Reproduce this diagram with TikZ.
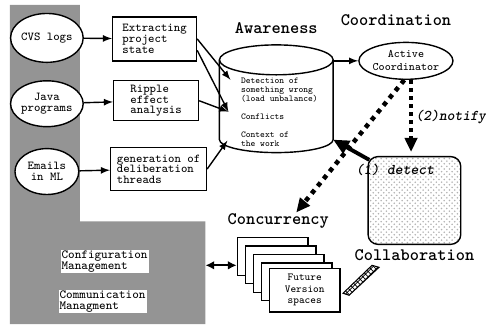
\documentclass[tikz,border=0pt]{standalone}
\usepackage{fontspec}
\usepackage{tikz}
\usetikzlibrary{positioning}
\usetikzlibrary{arrows}
\usetikzlibrary{arrows.meta}
\usetikzlibrary{shapes.geometric}
\usetikzlibrary{patterns}

\begin{document}
\begin{tikzpicture}[x=0.02cm, y=-0.02cm, >=latex, line width=0.8pt, node distance=0.08cm,
  src/.style={ellipse, draw, fill=white, minimum width=1.28cm, minimum height=0.92cm, inner sep=0pt, align=center, font=\fontsize{6.9}{6.3}\selectfont\ttfamily},
  proc/.style={rectangle, draw, fill=white, align=left, inner sep=1pt, font=\fontsize{6.9}{6.1}\selectfont\ttfamily},
  title/.style={inner sep=0pt, font=\fontsize{10}{10}\selectfont\ttfamily\bfseries},
  note/.style={anchor=west, align=left, inner sep=0pt, font=\fontsize{5.15}{5.1}\selectfont\ttfamily},
  page/.style={rectangle, draw, fill=white, minimum width=1.42cm, minimum height=0.76cm, align=center, font=\fontsize{6.1}{6.5}\selectfont\ttfamily},
  mgmt/.style={anchor=west, align=left, fill=white, inner sep=0.6pt, font=\fontsize{7.1}{6}\selectfont\ttfamily},
  act/.style={inner sep=0pt, font=\fontsize{8.5}{8.5}\selectfont\ttfamily\bfseries\slshape},
  sqdot/.style={line width=2.2pt, dash pattern=on 2.2pt off 2.4pt, -{Triangle[length=8pt, width=7pt]}}]

% shaded background
\fill[black!42] (10,5) -- (80,5) -- (80,222) -- (206,222) -- (206,325) -- (10,325) -- cycle;

% sources
\node [src, minimum height=0.98cm] (cvs) at (47,38) {CVS logs};
\node [src] (java) at (47,104) {Java\\programs};
\node [src] (mail) at (47,172) {Emails\\in ML};

\node [proc, minimum width=1.68cm, minimum height=0.88cm] (extract) at (155,39) {Extracting\\project\\state};
\node [proc, minimum width=1.7cm, minimum height=0.8cm] (ripple) at (156.5,101) {Ripple\\effect\\analysis};
\node [proc, minimum width=1.92cm, minimum height=0.86cm] (gen) at (159,169.5) {generation of\\deliberation\\threads};

\draw [->] (cvs) -- (extract);
\draw [->] (java) -- (ripple);
\draw [->] (mail) -- (gen);

% awareness store
\draw [fill=white] (220,60) -- (220,140) arc [start angle=180, end angle=0, x radius=57, y radius=13] -- (334,60);
\draw (277,60) ellipse [x radius=57, y radius=15];
\coordinate (cyltop) at (277,45);
\coordinate (cylr) at (334,61);
\coordinate (cylbr) at (334,140);
\node [title, above = 0.22cm of cyltop] (aware) {Awareness};

\node [note] (detection) at (241,90) {Detection of\\something wrong\\(load unbalance)};
\node [note] (conflicts) at (241,117) {Conflicts};
\node [note] (context) at (241,140) {Context of\\the work};

\coordinate (a1) at (231,80);
\coordinate (a2) at (229,112);
\coordinate (a3) at (228,141);
\draw [->] (extract.east) -- (a1);
\draw [->] (extract.-15) -- (a2);
\draw [->] (ripple.east) -- (a2);
\draw [->] (gen.east) -- (a3);

% coordination
\node [title] (coordt) at (397,20) {Coordination};
\node [ellipse, draw, fill=white, minimum width=1.82cm, minimum height=0.74cm, inner sep=0pt, align=center,
  font=\fontsize{6.5}{7.4}\selectfont\ttfamily] (coord) at (407,61) {Active\\Coordinator};
\draw [->] (cylr) -- (coord.west);

% collaboration
\node [rectangle, draw, rounded corners=0.2cm, pattern=crosshatch dots, pattern color=black!30,
  minimum width=1.86cm, minimum height=1.76cm] (collab) at (415.5,201) {};
\node [title, below = of collab] (collabt) {Collaboration};

\draw [sqdot] (coord.-75) -- ([yshift=0.08cm]coord.-75 |- collab.north);
\node [act, anchor=west] (notify) at (416,117) {(2)notify};

\draw [line width=2.2pt, -{Triangle[length=9pt, width=8pt]}] ([xshift=0.04cm,yshift=-0.08cm]collab.north west) -- (cylbr);
\node [act] (detect) at (396,170) {(1) detect};

% concurrency
\node [title] (conc) at (279,222) {Concurrency};
\coordinate (ct) at (297,213);
\draw [sqdot, line width=2.6pt, dash pattern=on 2.6pt off 2.8pt] (coord.-95) -- (ct);

\foreach \k in {0,...,3}
  \node [page] (v\k) at ({273.5+8*\k},{257+8.5*\k}) {};
\node [page] (fvs) at (305.5,291) {Future\\Version\\spaces};

\coordinate (cm) at (206,266);
\draw [line width=1.3pt, {Latex[length=5pt,width=5pt]}-{Latex[length=5pt,width=5pt]}] (cm) -- (cm -| v0.west);

\fill [pattern=crosshatch, pattern color=black] (344,294) -- (373,266) -- (380,268) -- (350,296) -- cycle;
\draw [line width=0.6pt] (344,294) -- (373,266) -- (380,268) -- (350,296) -- cycle;

% management labels
\node [mgmt] (cfg) at (60,262) {Configuration\\Management};
\node [mgmt] (com) at (58,302.5) {Communication\\Managment};

\useasboundingbox (0,0) rectangle (486,325);
\end{tikzpicture}
\end{document}
